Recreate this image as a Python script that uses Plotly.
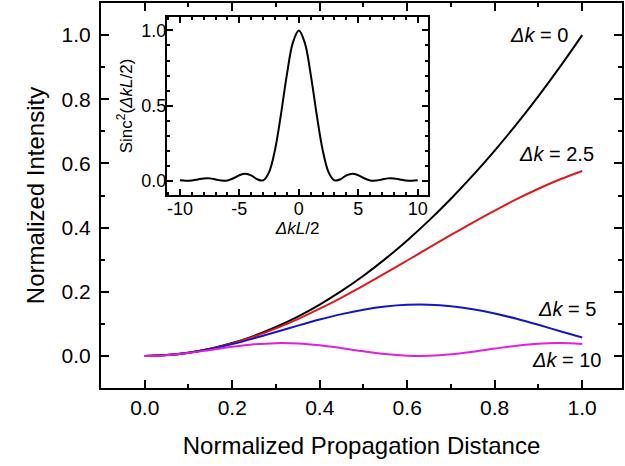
import plotly.graph_objects as go

# Main plot data
z = [0.0, 0.05, 0.10, 0.15, 0.20, 0.25, 0.30, 0.35, 0.40, 0.45, 0.50,
     0.55, 0.60, 0.65, 0.70, 0.75, 0.80, 0.85, 0.90, 0.95, 1.0]
dk0 = [0.0, 0.0025, 0.010, 0.0225, 0.040, 0.0625, 0.090, 0.1225, 0.160, 0.2025, 0.250,
       0.3025, 0.360, 0.4225, 0.490, 0.5625, 0.640, 0.7225, 0.810, 0.9025, 1.0]
dk25 = [0.0, 0.0025, 0.0099, 0.0222, 0.0392, 0.0605, 0.0859, 0.1149, 0.1471, 0.1820, 0.2191,
        0.2577, 0.2974, 0.3373, 0.3770, 0.4158, 0.4532, 0.4885, 0.5210, 0.5506, 0.5764]
dk5 = [0.0, 0.0025, 0.0098, 0.0215, 0.0368, 0.0548, 0.0743, 0.0943, 0.1133, 0.1303, 0.1441,
       0.1540, 0.1592, 0.1595, 0.1549, 0.1456, 0.1323, 0.1157, 0.0969, 0.0770, 0.0573]
dk10 = [0.0, 0.0024, 0.0092, 0.0186, 0.0283, 0.0360, 0.0398, 0.0387, 0.0331, 0.0242, 0.0143,
        0.0058, 0.0008, 0.0005, 0.0049, 0.0131, 0.0229, 0.0320, 0.0382, 0.0399, 0.0368]

# Inset data
u = [-10.0, -9.5, -9.0, -8.5, -8.0, -7.5, -7.0, -6.5, -6.0, -5.5, -5.0, -4.5, -4.0,
     -3.5, -3.0, -2.5, -2.0, -1.5, -1.0, -0.5, 0.0, 0.5, 1.0, 1.5, 2.0, 2.5, 3.0,
     3.5, 4.0, 4.5, 5.0, 5.5, 6.0, 6.5, 7.0, 7.5, 8.0, 8.5, 9.0, 9.5, 10.0]
sinc2 = [0.0030, 0.0001, 0.0021, 0.0088, 0.0153, 0.0156, 0.0088, 0.0011, 0.0022, 0.0165,
         0.0368, 0.0472, 0.0358, 0.0100, 0.0022, 0.0573, 0.2067, 0.4422, 0.7081, 0.9194,
         1.0, 0.9194, 0.7081, 0.4422, 0.2067, 0.0573, 0.0022, 0.0100, 0.0358, 0.0472,
         0.0368, 0.0165, 0.0022, 0.0011, 0.0088, 0.0156, 0.0153, 0.0088, 0.0021, 0.0001, 0.0030]

labels = ["0", "2.5", "5", "10"]
colors = ["#000000", "#e01818", "#1414c8", "#e020e0"]

FONT = "Liberation Sans, Arial, sans-serif"

fig = go.Figure()
for ys, c in zip([dk0, dk25, dk5, dk10], colors):
    fig.add_trace(go.Scatter(x=z, y=ys, mode="lines", line=dict(color=c, width=2, shape="spline"),
                             showlegend=False, xaxis="x", yaxis="y"))
fig.add_trace(go.Scatter(x=u, y=sinc2, mode="lines", line=dict(color="#000000", width=2, shape="spline"),
                         showlegend=False, xaxis="x2", yaxis="y2"))

ann_pos = [(0.971, 1.0), (1.032, 0.630), (1.037, 0.145), (1.048, -0.012)]
for lab, (ax, ay) in zip(labels, ann_pos):
    fig.add_annotation(x=ax, y=ay, xref="x", yref="y", text="<i>Δk</i> = " + lab,
                       showarrow=False, xanchor="right", yanchor="middle",
                       font=dict(family=FONT, size=20, color="#000000"))

axis_common = dict(showline=True, linecolor="#000000", linewidth=2, mirror="ticks",
                   ticks="inside", tickcolor="#000000", tickwidth=1.5, showgrid=False,
                   zeroline=False)

fig.update_layout(
    width=625, height=466,
    margin=dict(l=101, r=2, t=1, b=78),
    paper_bgcolor="white", plot_bgcolor="white",
    font=dict(family=FONT, color="#000000"),
    xaxis=dict(**axis_common, range=[-0.1, 1.091], dtick=0.2, tick0=0, tickformat=".1f",
               ticklen=8, minor=dict(ticks="inside", dtick=0.1, tick0=0, ticklen=4, tickcolor="#000000"),
               tickfont=dict(size=21), ticklabelstandoff=0,
               title=dict(text="Normalized Propagation Distance", font=dict(size=24), standoff=19),
               domain=[0, 1], anchor="y"),
    yaxis=dict(**axis_common, range=[-0.1, 1.1], dtick=0.2, tick0=0, tickformat=".1f",
               ticklen=8, minor=dict(ticks="inside", dtick=0.1, tick0=0, ticklen=4, tickcolor="#000000"),
               tickfont=dict(size=21), ticklabelstandoff=4,
               title=dict(text="Normalized Intensity", font=dict(size=24), standoff=10),
               domain=[0, 1], anchor="x"),
    xaxis2=dict(**axis_common, range=[-11.1, 10.9], tickvals=[-10, -5, 0, 5, 10],
                ticktext=["-10", "-5", "0", "5", "10"], ticklen=6,
                minor=dict(ticks="inside", dtick=1, tick0=0, ticklen=3, tickcolor="#000000"),
                tickfont=dict(size=18), ticklabelstandoff=-4,
                title=dict(text="<i>ΔkL</i>/2", font=dict(size=17), standoff=1),
                domain=[0.1264, 0.6284], anchor="y2"),
    yaxis2=dict(**axis_common, range=[-0.095, 1.09], dtick=0.5, tick0=0, tickformat=".1f", ticklen=6,
                minor=dict(ticks="inside", dtick=0.1, tick0=0, ticklen=3, tickcolor="#000000"),
                tickfont=dict(size=18), ticklabelstandoff=-5,
                title=dict(text="Sinc<sup>2</sup>(<i>ΔkL</i>/2)", font=dict(size=17), standoff=4),
                domain=[0.5013, 0.9638], anchor="x2"),
)

fig.write_html("out.html")
